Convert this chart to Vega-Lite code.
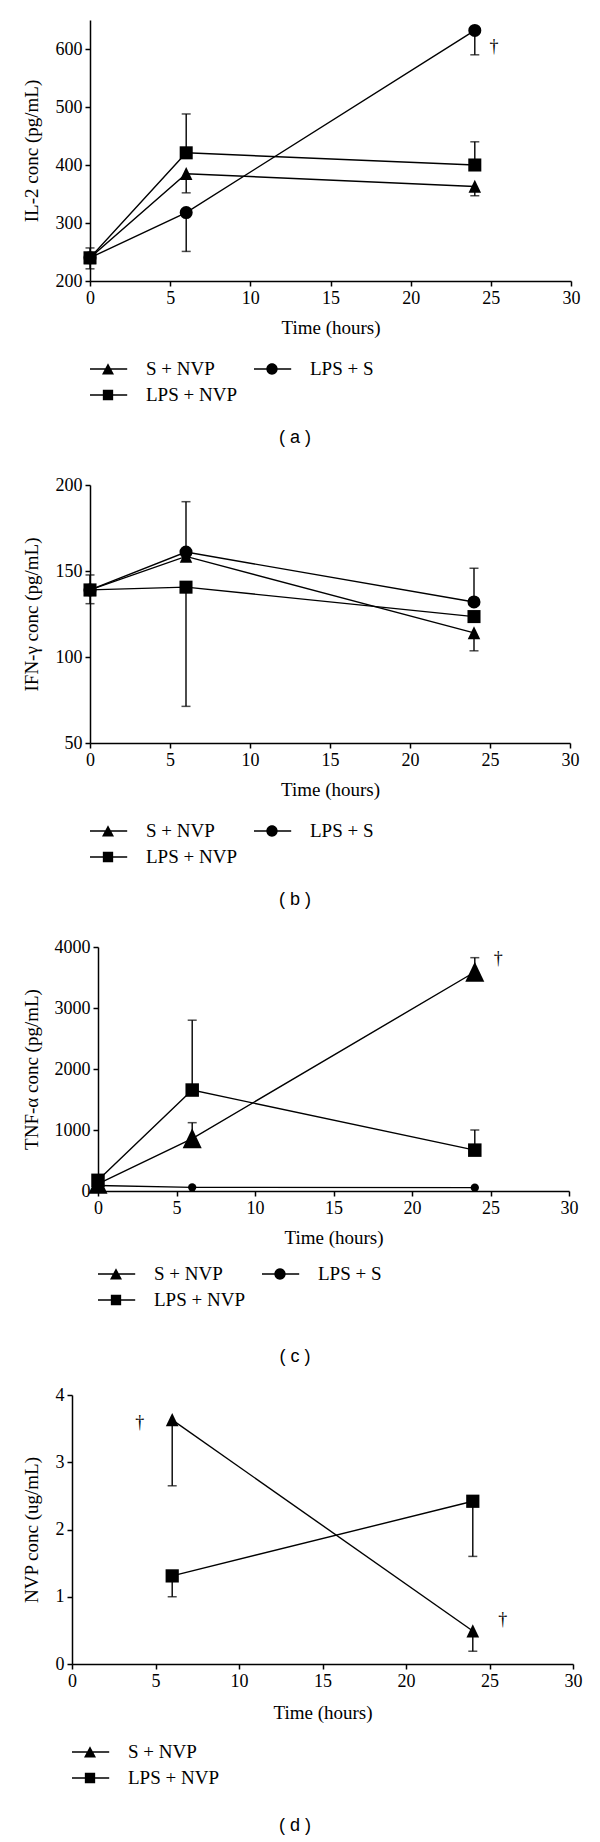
{
  "$schema": "https://vega.github.io/schema/vega-lite/v6.json",
  "background": "white",
  "padding": {"left": 0, "top": 20, "right": 10, "bottom": 0},
  "bounds": "flush",
  "spacing": 204,
  "datasets": {
    "il2": [
      {"series": "S + NVP", "time": 0, "value": 240, "err": 257},
      {"series": "S + NVP", "time": 6, "value": 385, "err": 352},
      {"series": "S + NVP", "time": 24, "value": 363, "err": 347},
      {"series": "LPS + NVP", "time": 0, "value": 240, "err": null},
      {"series": "LPS + NVP", "time": 6, "value": 421, "err": 488},
      {"series": "LPS + NVP", "time": 24, "value": 400, "err": 440},
      {"series": "LPS + S", "time": 0, "value": 240, "err": 221},
      {"series": "LPS + S", "time": 6, "value": 318, "err": 251},
      {"series": "LPS + S", "time": 24, "value": 632, "err": 590}
    ],
    "ifn": [
      {"series": "S + NVP", "time": 0, "value": 139, "err": 131},
      {"series": "S + NVP", "time": 6, "value": 158.5, "err": null},
      {"series": "S + NVP", "time": 24, "value": 114, "err": 103.6},
      {"series": "LPS + NVP", "time": 0, "value": 139, "err": 147.7},
      {"series": "LPS + NVP", "time": 6, "value": 140.6, "err": 71.3},
      {"series": "LPS + NVP", "time": 24, "value": 123.5, "err": null},
      {"series": "LPS + S", "time": 0, "value": 139, "err": null},
      {"series": "LPS + S", "time": 6, "value": 161, "err": 190.3},
      {"series": "LPS + S", "time": 24, "value": 132, "err": 151.6}
    ],
    "tnf": [
      {"series": "S + NVP", "time": 0, "value": 115, "err": null},
      {"series": "S + NVP", "time": 6, "value": 860, "err": 1120},
      {"series": "S + NVP", "time": 24, "value": 3590, "err": 3825},
      {"series": "LPS + NVP", "time": 0, "value": 175, "err": null},
      {"series": "LPS + NVP", "time": 6, "value": 1655, "err": 2800},
      {"series": "LPS + NVP", "time": 24, "value": 670, "err": 1000},
      {"series": "LPS + S", "time": 0, "value": 90, "err": null},
      {"series": "LPS + S", "time": 6, "value": 60, "err": null},
      {"series": "LPS + S", "time": 24, "value": 55, "err": null}
    ],
    "nvp": [
      {"series": "S + NVP", "time": 6, "value": 3.63, "err": 2.65},
      {"series": "S + NVP", "time": 24, "value": 0.49, "err": 0.19},
      {"series": "LPS + NVP", "time": 6, "value": 1.31, "err": 1.0},
      {"series": "LPS + NVP", "time": 24, "value": 2.42, "err": 1.6}
    ],
    "daggers": [
      {"panel": "a", "time": 25.2, "value": 603},
      {"panel": "c", "time": 25.5, "value": 3800},
      {"panel": "d", "time": 4.06, "value": 3.59},
      {"panel": "d", "time": 25.8, "value": 0.66}
    ]
  },
  "vconcat": [
    {
      "width": 590, "height": 261,
      "data": {"name": "il2"},
      "title": {"text": "( a )", "orient": "bottom", "anchor": "middle", "frame": "group", "offset": 22},
      "encoding": {
        "x": {"field": "time", "type": "quantitative",
          "scale": {"domain": [0, 30], "range": [90, 571], "nice": false, "zero": false},
          "axis": {"title": "Time (hours)", "values": [0, 5, 10, 15, 20, 25, 30], "titlePadding": 11, "titleFontWeight": "normal"}},
        "y": {"field": "value", "type": "quantitative",
          "scale": {"domain": [200, 650], "nice": false, "zero": false},
          "axis": {"title": "IL-2 conc (pg/mL)", "values": [200, 300, 400, 500, 600], "format": "d", "offset": -90, "titleX": -58.5, "titleBaseline": "middle", "titleFontWeight": "normal"}}
      },
      "layer": [
        {"mark": {"type": "line", "color": "black", "strokeWidth": 1.4}, "encoding": {"detail": {"field": "series"}}},
        {"transform": [{"filter": "datum.err != null"}], "mark": {"type": "rule", "color": "black", "strokeWidth": 1.4}, "encoding": {"y2": {"field": "err"}}},
        {"transform": [{"filter": "datum.err != null"}], "mark": {"type": "tick", "color": "black", "orient": "horizontal", "size": 9, "thickness": 1.5}, "encoding": {"y": {"field": "err", "type": "quantitative"}}},
        {"mark": {"type": "point", "filled": true, "color": "black", "opacity": 1, "size": 170, "strokeWidth": 0},
          "encoding": {"shape": {"field": "series", "type": "nominal", "scale": {"domain": ["S + NVP", "LPS + NVP", "LPS + S"], "range": ["M0,-1.03L0.96,0.98L-0.96,0.98Z", "square", "circle"]}, "legend": null}}},
        {"data": {"name": "daggers"}, "transform": [{"filter": "datum.panel == 'a'"}], "mark": {"type": "text", "font": "Liberation Serif", "fontSize": 18, "fill": "black"}, "encoding": {"text": {"value": "†"}}},
        {"transform": [{"filter": "false"}], "mark": {"type": "point", "filled": true, "color": "black", "opacity": 1, "size": 576},
          "encoding": {"shape": {"field": "series", "type": "nominal",
            "scale": {"domain": ["S + NVP", "LPS + NVP", "LPS + S"], "range": ["M-1.6,-0.065H1.6V0.065H-1.6Z M0,-0.48L0.5,0.45L-0.5,0.45Z", "M-1.6,-0.065H1.6V0.065H-1.6Z M-0.43,-0.43H0.43V0.43H-0.43Z", "M-1.6,-0.065H1.6V0.065H-1.6Z M0.47,0A0.47,0.47 0 1,1 -0.47,0A0.47,0.47 0 1,1 0.47,0Z"]},
            "legend": {"title": null, "orient": "none", "legendX": 90, "legendY": 337, "columns": 2, "columnPadding": 17, "rowPadding": 2, "symbolSize": 576, "symbolOffset": 6, "symbolFillColor": "black", "symbolStrokeColor": "black", "symbolStrokeWidth": 0, "symbolOpacity": 1, "clipHeight": 24, "labelFont": "Liberation Serif", "labelFontSize": 19, "labelColor": "black", "labelOffset": 26, "labelLimit": 300, "padding": 0}}}}
      ],
      "resolve": {"scale": {"shape": "independent"}}
    },
    {
      "width": 590, "height": 258,
      "data": {"name": "ifn"},
      "title": {"text": "( b )", "orient": "bottom", "anchor": "middle", "frame": "group", "offset": 22},
      "encoding": {
        "x": {"field": "time", "type": "quantitative",
          "scale": {"domain": [0, 30], "range": [90, 570], "nice": false, "zero": false},
          "axis": {"title": "Time (hours)", "values": [0, 5, 10, 15, 20, 25, 30], "titlePadding": 11, "titleFontWeight": "normal"}},
        "y": {"field": "value", "type": "quantitative",
          "scale": {"domain": [50, 200], "nice": false, "zero": false},
          "axis": {"title": "IFN-γ conc (pg/mL)", "values": [50, 100, 150, 200], "format": "d", "offset": -90, "titleX": -58.5, "titleBaseline": "middle", "titleFontWeight": "normal"}}
      },
      "layer": [
        {"mark": {"type": "line", "color": "black", "strokeWidth": 1.4}, "encoding": {"detail": {"field": "series"}}},
        {"transform": [{"filter": "datum.err != null"}], "mark": {"type": "rule", "color": "black", "strokeWidth": 1.4}, "encoding": {"y2": {"field": "err"}}},
        {"transform": [{"filter": "datum.err != null"}], "mark": {"type": "tick", "color": "black", "orient": "horizontal", "size": 9, "thickness": 1.5}, "encoding": {"y": {"field": "err", "type": "quantitative"}}},
        {"mark": {"type": "point", "filled": true, "color": "black", "opacity": 1, "size": 170, "strokeWidth": 0},
          "encoding": {"shape": {"field": "series", "type": "nominal", "scale": {"domain": ["S + NVP", "LPS + NVP", "LPS + S"], "range": ["M0,-1.03L0.96,0.98L-0.96,0.98Z", "square", "circle"]}, "legend": null}}},
        {"transform": [{"filter": "false"}], "mark": {"type": "point", "filled": true, "color": "black", "opacity": 1, "size": 576},
          "encoding": {"shape": {"field": "series", "type": "nominal",
            "scale": {"domain": ["S + NVP", "LPS + NVP", "LPS + S"], "range": ["M-1.6,-0.065H1.6V0.065H-1.6Z M0,-0.48L0.5,0.45L-0.5,0.45Z", "M-1.6,-0.065H1.6V0.065H-1.6Z M-0.43,-0.43H0.43V0.43H-0.43Z", "M-1.6,-0.065H1.6V0.065H-1.6Z M0.47,0A0.47,0.47 0 1,1 -0.47,0A0.47,0.47 0 1,1 0.47,0Z"]},
            "legend": {"title": null, "orient": "none", "legendX": 90, "legendY": 334, "columns": 2, "columnPadding": 17, "rowPadding": 2, "symbolSize": 576, "symbolOffset": 6, "symbolFillColor": "black", "symbolStrokeColor": "black", "symbolStrokeWidth": 0, "symbolOpacity": 1, "clipHeight": 24, "labelFont": "Liberation Serif", "labelFontSize": 19, "labelColor": "black", "labelOffset": 26, "labelLimit": 300, "padding": 0}}}}
      ],
      "resolve": {"scale": {"shape": "independent"}}
    },
    {
      "width": 590, "height": 244,
      "data": {"name": "tnf"},
      "title": {"text": "( c )", "orient": "bottom", "anchor": "middle", "frame": "group", "offset": 36},
      "encoding": {
        "x": {"field": "time", "type": "quantitative",
          "scale": {"domain": [0, 30], "range": [98, 569], "nice": false, "zero": false},
          "axis": {"title": "Time (hours)", "values": [0, 5, 10, 15, 20, 25, 30], "titlePadding": 11, "titleFontWeight": "normal"}},
        "y": {"field": "value", "type": "quantitative",
          "scale": {"domain": [0, 4000], "nice": false, "zero": false},
          "axis": {"title": "TNF-α conc (pg/mL)", "values": [0, 1000, 2000, 3000, 4000], "format": "d", "offset": -98, "titleX": -66.5, "titleBaseline": "middle", "titleFontWeight": "normal"}}
      },
      "layer": [
        {"mark": {"type": "line", "color": "black", "strokeWidth": 1.4}, "encoding": {"detail": {"field": "series"}}},
        {"transform": [{"filter": "datum.err != null"}], "mark": {"type": "rule", "color": "black", "strokeWidth": 1.4}, "encoding": {"y2": {"field": "err"}}},
        {"transform": [{"filter": "datum.err != null"}], "mark": {"type": "tick", "color": "black", "orient": "horizontal", "size": 9, "thickness": 1.5}, "encoding": {"y": {"field": "err", "type": "quantitative"}}},
        {"mark": {"type": "point", "filled": true, "color": "black", "opacity": 1, "strokeWidth": 0},
          "encoding": {
            "shape": {"field": "series", "type": "nominal", "scale": {"domain": ["S + NVP", "LPS + NVP", "LPS + S"], "range": ["M0,-1.03L0.96,0.98L-0.96,0.98Z", "square", "circle"]}, "legend": null},
            "size": {"field": "series", "type": "nominal", "scale": {"type": "ordinal", "domain": ["S + NVP", "LPS + NVP", "LPS + S"], "range": [392, 182, 69]}, "legend": null}}},
        {"data": {"name": "daggers"}, "transform": [{"filter": "datum.panel == 'c'"}], "mark": {"type": "text", "font": "Liberation Serif", "fontSize": 18, "fill": "black"}, "encoding": {"text": {"value": "†"}}},
        {"transform": [{"filter": "false"}], "mark": {"type": "point", "filled": true, "color": "black", "opacity": 1, "size": 576},
          "encoding": {"shape": {"field": "series", "type": "nominal",
            "scale": {"domain": ["S + NVP", "LPS + NVP", "LPS + S"], "range": ["M-1.6,-0.065H1.6V0.065H-1.6Z M0,-0.48L0.5,0.45L-0.5,0.45Z", "M-1.6,-0.065H1.6V0.065H-1.6Z M-0.43,-0.43H0.43V0.43H-0.43Z", "M-1.6,-0.065H1.6V0.065H-1.6Z M0.47,0A0.47,0.47 0 1,1 -0.47,0A0.47,0.47 0 1,1 0.47,0Z"]},
            "legend": {"title": null, "orient": "none", "legendX": 98, "legendY": 315, "columns": 2, "columnPadding": 17, "rowPadding": 2, "symbolSize": 576, "symbolOffset": 6, "symbolFillColor": "black", "symbolStrokeColor": "black", "symbolStrokeWidth": 0, "symbolOpacity": 1, "clipHeight": 24, "labelFont": "Liberation Serif", "labelFontSize": 19, "labelColor": "black", "labelOffset": 26, "labelLimit": 300, "padding": 0}}}}
      ],
      "resolve": {"scale": {"shape": "independent", "size": "independent"}}
    },
    {
      "width": 590, "height": 269,
      "data": {"name": "nvp"},
      "title": {"text": "( d )", "orient": "bottom", "anchor": "middle", "frame": "group", "offset": 27},
      "encoding": {
        "x": {"field": "time", "type": "quantitative",
          "scale": {"domain": [0, 30], "range": [72, 573], "nice": false, "zero": false},
          "axis": {"title": "Time (hours)", "values": [0, 5, 10, 15, 20, 25, 30], "titlePadding": 13, "titleFontWeight": "normal"}},
        "y": {"field": "value", "type": "quantitative",
          "scale": {"domain": [0, 4], "nice": false, "zero": false},
          "axis": {"title": "NVP conc (ug/mL)", "values": [0, 1, 2, 3, 4], "format": "d", "offset": -72, "titleX": -40.5, "titleBaseline": "middle", "titleFontWeight": "normal"}}
      },
      "layer": [
        {"mark": {"type": "line", "color": "black", "strokeWidth": 1.4}, "encoding": {"detail": {"field": "series"}}},
        {"transform": [{"filter": "datum.err != null"}], "mark": {"type": "rule", "color": "black", "strokeWidth": 1.4}, "encoding": {"y2": {"field": "err"}}},
        {"transform": [{"filter": "datum.err != null"}], "mark": {"type": "tick", "color": "black", "orient": "horizontal", "size": 9, "thickness": 1.5}, "encoding": {"y": {"field": "err", "type": "quantitative"}}},
        {"mark": {"type": "point", "filled": true, "color": "black", "opacity": 1, "size": 175, "strokeWidth": 0},
          "encoding": {"shape": {"field": "series", "type": "nominal", "scale": {"domain": ["S + NVP", "LPS + NVP"], "range": ["M0,-1.03L0.96,0.98L-0.96,0.98Z", "square"]}, "legend": null}}},
        {"data": {"name": "daggers"}, "transform": [{"filter": "datum.panel == 'd'"}], "mark": {"type": "text", "font": "Liberation Serif", "fontSize": 18, "fill": "black"}, "encoding": {"text": {"value": "†"}}},
        {"transform": [{"filter": "false"}], "mark": {"type": "point", "filled": true, "color": "black", "opacity": 1, "size": 576},
          "encoding": {"shape": {"field": "series", "type": "nominal",
            "scale": {"domain": ["S + NVP", "LPS + NVP"], "range": ["M-1.6,-0.065H1.6V0.065H-1.6Z M0,-0.48L0.5,0.45L-0.5,0.45Z", "M-1.6,-0.065H1.6V0.065H-1.6Z M-0.43,-0.43H0.43V0.43H-0.43Z"]},
            "legend": {"title": null, "orient": "none", "legendX": 72, "legendY": 345, "columns": 1, "rowPadding": 2, "symbolSize": 576, "symbolOffset": 6, "symbolFillColor": "black", "symbolStrokeColor": "black", "symbolStrokeWidth": 0, "symbolOpacity": 1, "clipHeight": 24, "labelFont": "Liberation Serif", "labelFontSize": 19, "labelColor": "black", "labelOffset": 26, "labelLimit": 300, "padding": 0}}}}
      ],
      "resolve": {"scale": {"shape": "independent"}}
    }
  ],
  "config": {
    "font": "Liberation Serif",
    "view": {"stroke": null},
    "style": {"guide-title": {"fontWeight": "normal"}},
    "axis": {"domainColor": "black", "domainWidth": 1.5, "tickColor": "black", "tickWidth": 1.5, "tickSize": 5, "labelFont": "Liberation Serif", "labelFontSize": 18, "labelColor": "black", "labelPadding": 3, "titleFont": "Liberation Serif", "titleFontSize": 19, "titleFontWeight": "normal", "titleColor": "black", "grid": false, "labelFlush": false, "labelOverlap": false, "labelBound": false},
    "title": {"font": "Liberation Sans", "fontSize": 18, "fontWeight": "normal", "color": "black"}
  }
}
